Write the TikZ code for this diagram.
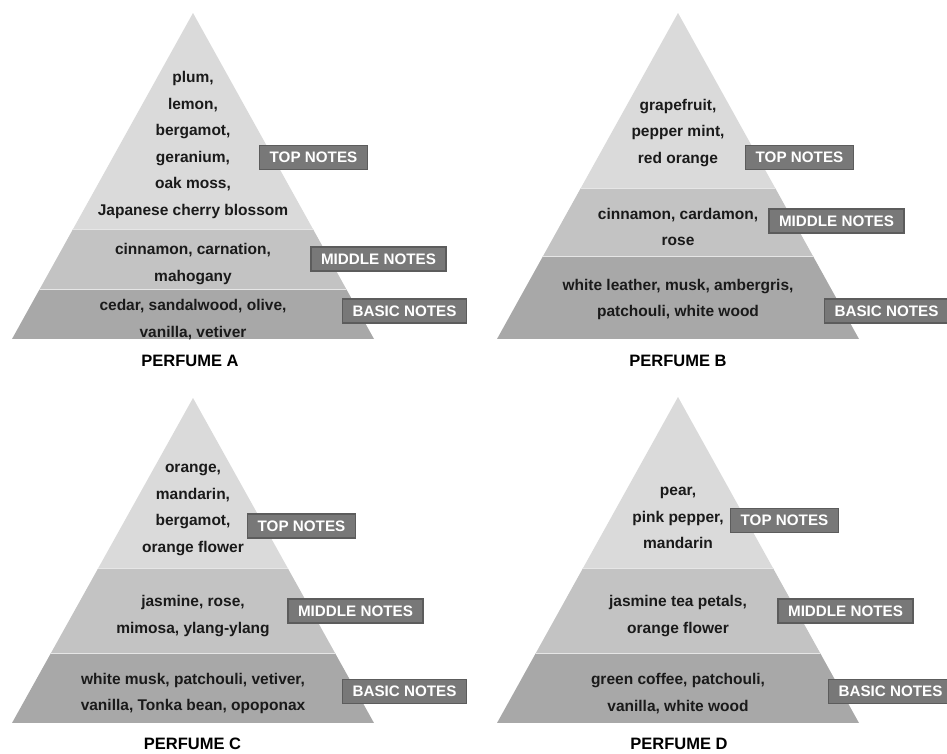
\documentclass[tikz,border=0pt]{standalone}
\usepackage{fontspec}
\setmainfont{Liberation Sans}
\definecolor{topc}{HTML}{DADADA}
\definecolor{midc}{HTML}{C3C3C3}
\definecolor{basc}{HTML}{A8A8A8}
\definecolor{boxc}{HTML}{787878}
\definecolor{boxd}{HTML}{5C5C5C}
\definecolor{notec}{HTML}{1A1A1A}
\definecolor{sepc}{HTML}{E6E6E6}
\newcommand\pyramidlayers[5]{% apex x, apex y, base y, boundary 1, boundary 2
  \begin{scope}
    \clip (#1,#2) -- ({#1-181},#3) -- ({#1+181},#3) -- cycle;
    \fill[topc] ({#1-190},{#2-2}) rectangle ({#1+190},#4);
    \fill[midc] ({#1-190},#4) rectangle ({#1+190},#5);
    \fill[basc] ({#1-190},#5) rectangle ({#1+190},#3);
    \draw[sepc, line width=1pt] ({#1-190},#4) -- ({#1+190},#4) ({#1-190},#5) -- ({#1+190},#5);
  \end{scope}}
\begin{document}
\begin{tikzpicture}[x=1pt,y=-1pt,
  notes/.style={font=\bfseries\fontsize{15.5}{26.5}\selectfont, text=notec, align=center, inner sep=0pt},
  tag/.style={font=\bfseries\fontsize{15.2}{18}\selectfont, text=white, fill=boxc, draw=boxd, line width=1.2pt, minimum height=24pt, inner xsep=10pt, inner ysep=0pt},
  title/.style={font=\bfseries\fontsize{16.5}{20}\selectfont, text=black, inner sep=0pt}]
\useasboundingbox (0,0) rectangle (947,753);
\fill[white] (0,0) rectangle (947,753);
% Perfume A
\pyramidlayers{193}{13}{339}{229}{289}
\node[notes] (atop) at (193,145) {plum,\\lemon,\\bergamot,\\geranium,\\oak moss,\\Japanese cherry blossom};
\node[notes] (amid) at (193,264) {cinnamon, carnation,\\mahogany};
\node[notes] (abas) at (193,319.5) {cedar, sandalwood, olive,\\vanilla, vetiver};
\node[tag] (atopt) at (313.5,157.5) {TOP NOTES};
\node[tag] (amidt) at (378.5,259) {MIDDLE NOTES};
\node[tag] (abast) at (404.5,311) {BASIC NOTES};
\node[title] (atitle) at (190,361) {PERFUME A};
% Perfume B
\pyramidlayers{678}{13}{339}{188}{256}
\node[notes] (btop) at (678,133) {grapefruit,\\pepper mint,\\red orange};
\node[notes] (bmid) at (678,227) {cinnamon, cardamon,\\rose};
\node[notes] (bbas) at (678,299.5) {white leather, musk, ambergris,\\patchouli, white wood};
\node[tag] (btopt) at (799.5,157.5) {TOP NOTES};
\node[tag] (bmidt) at (836.5,221) {MIDDLE NOTES};
\node[tag] (bbast) at (886.5,311) {BASIC NOTES};
\node[title] (btitle) at (678,361) {PERFUME B};
% Perfume C
\pyramidlayers{193}{398}{723}{568}{653}
\node[notes] (ctop) at (193,510) {orange,\\mandarin,\\bergamot,\\orange flower};
\node[notes] (cmid) at (193,616) {jasmine, rose,\\mimosa, ylang-ylang};
\node[notes] (cbas) at (193,693.5) {white musk, patchouli, vetiver,\\vanilla, Tonka bean, opoponax};
\node[tag] (ctopt) at (301.5,526) {TOP NOTES};
\node[tag] (cmidt) at (355.5,611) {MIDDLE NOTES};
\node[tag] (cbast) at (404.5,691.5) {BASIC NOTES};
\node[title] (ctitle) at (192.5,744) {PERFUME C};
% Perfume D
\pyramidlayers{678}{397}{723}{568}{653}
\node[notes] (dtop) at (678,518) {pear,\\pink pepper,\\mandarin};
\node[notes] (dmid) at (678,616) {jasmine tea petals,\\orange flower};
\node[notes] (dbas) at (678,693.5) {green coffee, patchouli,\\vanilla, white wood};
\node[tag] (dtopt) at (784.5,520.5) {TOP NOTES};
\node[tag] (dmidt) at (845.5,611) {MIDDLE NOTES};
\node[tag] (dbast) at (890.5,691.5) {BASIC NOTES};
\node[title] (dtitle) at (679,744) {PERFUME D};
\end{tikzpicture}
\end{document}
